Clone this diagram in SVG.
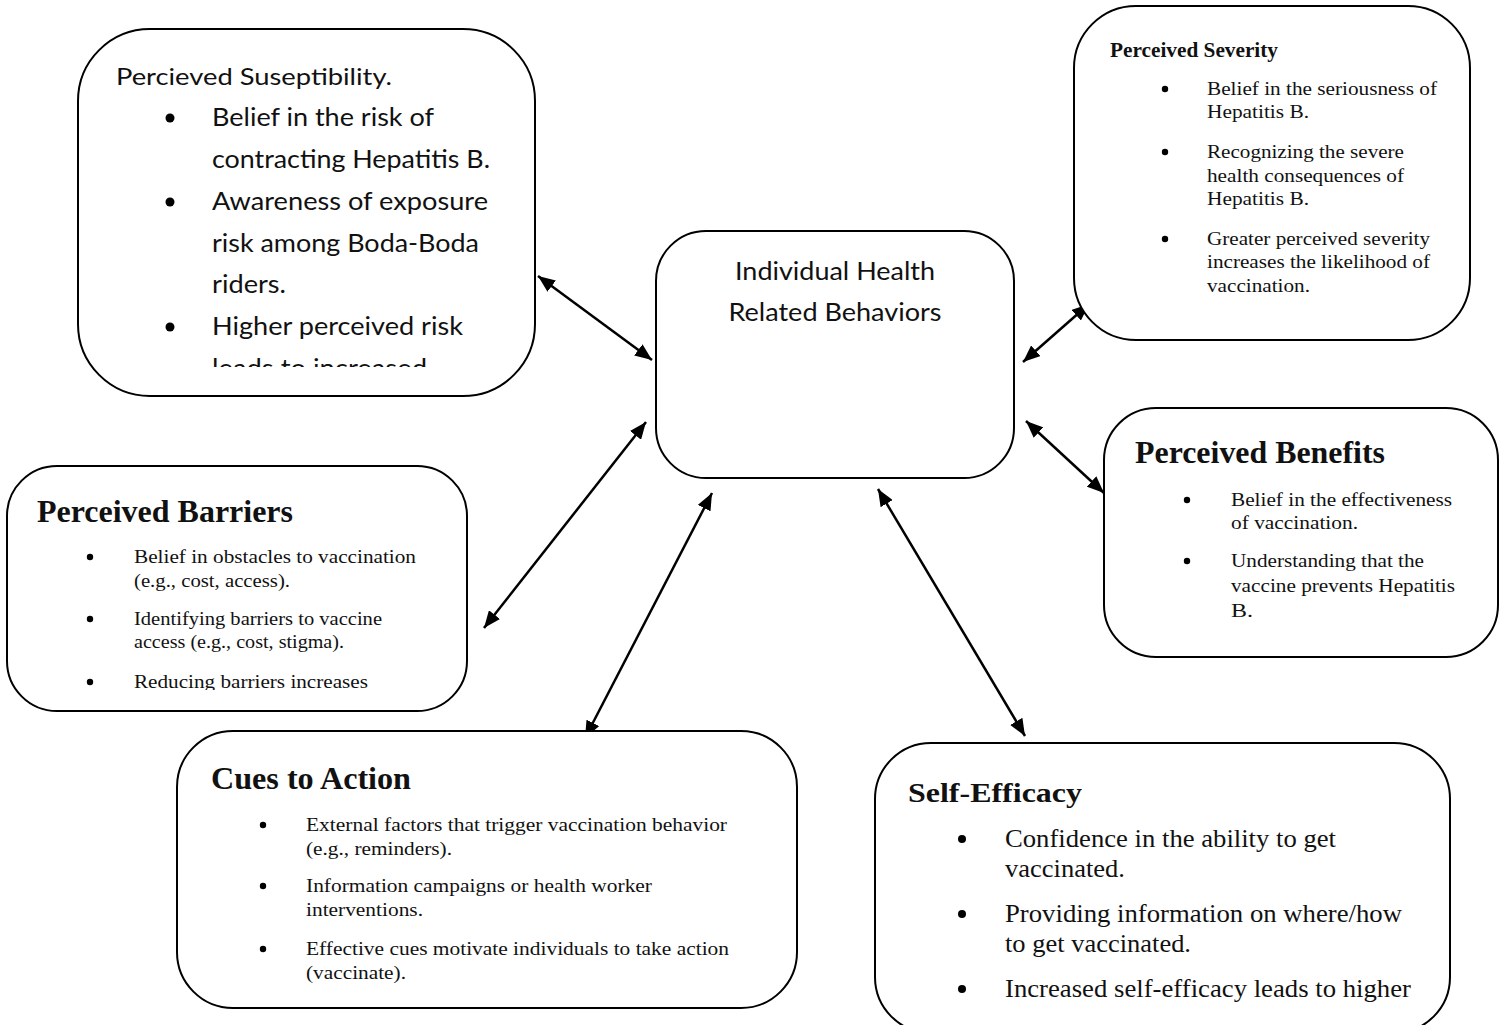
<svg xmlns="http://www.w3.org/2000/svg" width="1502" height="1025" viewBox="0 0 1502 1025">
<style>
.box{fill:#fff;stroke:#000;stroke-width:2}
.sans{font-family:Lato,"Liberation Sans",Arial,sans-serif;fill:#111}
.serif{font-family:"Liberation Serif","Times New Roman",serif;fill:#111}
.ttl{font-weight:bold;font-size:32px}
.s18{font-size:19.5px}
.s24{font-size:25px}
.c{stroke:#000;stroke-width:2.5;fill:none;marker-start:url(#ah);marker-end:url(#ah)}
</style>
<defs>
<marker id="ah" viewBox="0 0 12 10" refX="12" refY="5" markerWidth="6.8" markerHeight="5.67" orient="auto-start-reverse" markerUnits="strokeWidth">
<path d="M0,0 L12,5 L0,10 z" fill="#000"/>
</marker>
<clipPath id="clip1"><rect x="80" y="30" width="450" height="337"/></clipPath>
<clipPath id="clip4"><rect x="8" y="467" width="458" height="223"/></clipPath>
</defs>
<rect width="1502" height="1025" fill="#fff"/>

<g id="connectors">
<line class="c" x1="538" y1="276" x2="652" y2="360"/>
<line class="c" x1="646" y1="422" x2="484" y2="628"/>
<line class="c" x1="712" y1="493" x2="585" y2="738"/>
<line class="c" x1="878" y1="489" x2="1025" y2="736"/>
<line class="c" x1="1023" y1="362" x2="1089" y2="304"/>
<line class="c" x1="1026" y1="421" x2="1104" y2="493"/>
</g>

<g id="susceptibility">
<rect class="box" x="78" y="29" width="457" height="367" rx="72" ry="72"/>
<g clip-path="url(#clip1)" class="sans">
<text x="116" y="85" font-size="23" textLength="276" lengthAdjust="spacingAndGlyphs">Percieved Suseptibility.</text>
<g fill="#000"><circle cx="170" cy="118" r="4.5"/><circle cx="170" cy="202" r="4.5"/><circle cx="170" cy="327" r="4.5"/></g>
<g font-size="25">
<text x="212" y="126" textLength="222" lengthAdjust="spacingAndGlyphs">Belief in the risk of</text>
<text x="212" y="168" textLength="278" lengthAdjust="spacingAndGlyphs">contracting Hepatitis B.</text>
<text x="212" y="210" textLength="276" lengthAdjust="spacingAndGlyphs">Awareness of exposure</text>
<text x="212" y="252" textLength="267" lengthAdjust="spacingAndGlyphs">risk among Boda-Boda</text>
<text x="212" y="293" textLength="74" lengthAdjust="spacingAndGlyphs">riders.</text>
<text x="212" y="335" textLength="251" lengthAdjust="spacingAndGlyphs">Higher perceived risk</text>
<text x="212" y="377" textLength="215" lengthAdjust="spacingAndGlyphs">leads to increased</text>
</g>
</g>
</g>

<g id="severity">
<rect class="box" x="1074" y="6" width="396" height="334" rx="62" ry="62"/>
<text class="serif" x="1110" y="57" font-size="20" font-weight="bold" textLength="168" lengthAdjust="spacingAndGlyphs">Perceived Severity</text>
<g fill="#000"><circle cx="1165" cy="89" r="3.2"/><circle cx="1165" cy="152" r="3.2"/><circle cx="1165" cy="239" r="3.2"/></g>
<g class="serif s18">
<text x="1207" y="95" textLength="230" lengthAdjust="spacingAndGlyphs">Belief in the seriousness of</text>
<text x="1207" y="118" textLength="102" lengthAdjust="spacingAndGlyphs">Hepatitis B.</text>
<text x="1207" y="158" textLength="197" lengthAdjust="spacingAndGlyphs">Recognizing the severe</text>
<text x="1207" y="182" textLength="197" lengthAdjust="spacingAndGlyphs">health consequences of</text>
<text x="1207" y="205" textLength="102" lengthAdjust="spacingAndGlyphs">Hepatitis B.</text>
<text x="1207" y="245" textLength="223" lengthAdjust="spacingAndGlyphs">Greater perceived severity</text>
<text x="1207" y="268" textLength="223" lengthAdjust="spacingAndGlyphs">increases the likelihood of</text>
<text x="1207" y="292" textLength="103" lengthAdjust="spacingAndGlyphs">vaccination.</text>
</g>
</g>

<g id="center">
<rect class="box" x="656" y="231" width="358" height="247" rx="50" ry="50"/>
<g class="sans" font-size="25" text-anchor="middle">
<text x="835" y="280" textLength="200" lengthAdjust="spacingAndGlyphs">Individual Health</text>
<text x="835" y="321" textLength="213" lengthAdjust="spacingAndGlyphs">Related Behaviors</text>
</g>
</g>

<g id="barriers">
<rect class="box" x="7" y="466" width="460" height="245" rx="50" ry="50"/>
<text class="serif ttl" x="37" y="522" textLength="256" lengthAdjust="spacingAndGlyphs">Perceived Barriers</text>
<g fill="#000"><circle cx="90" cy="557" r="3.2"/><circle cx="90" cy="619" r="3.2"/><circle cx="90" cy="682" r="3.2"/></g>
<g class="serif s18" clip-path="url(#clip4)">
<text x="134" y="563" textLength="282" lengthAdjust="spacingAndGlyphs">Belief in obstacles to vaccination</text>
<text x="134" y="587" textLength="156" lengthAdjust="spacingAndGlyphs">(e.g., cost, access).</text>
<text x="134" y="625" textLength="248" lengthAdjust="spacingAndGlyphs">Identifying barriers to vaccine</text>
<text x="134" y="648" textLength="210" lengthAdjust="spacingAndGlyphs">access (e.g., cost, stigma).</text>
<text x="134" y="688" textLength="234" lengthAdjust="spacingAndGlyphs">Reducing barriers increases</text>
</g>
</g>

<g id="benefits">
<rect class="box" x="1104" y="408" width="394" height="249" rx="52" ry="52"/>
<text class="serif ttl" x="1135" y="463" textLength="250" lengthAdjust="spacingAndGlyphs">Perceived Benefits</text>
<g fill="#000"><circle cx="1187" cy="500" r="3.2"/><circle cx="1187" cy="561" r="3.2"/></g>
<g class="serif s18">
<text x="1231" y="506" textLength="221" lengthAdjust="spacingAndGlyphs">Belief in the effectiveness</text>
<text x="1231" y="529" textLength="127" lengthAdjust="spacingAndGlyphs">of vaccination.</text>
<text x="1231" y="567" textLength="193" lengthAdjust="spacingAndGlyphs">Understanding that the</text>
<text x="1231" y="592" textLength="224" lengthAdjust="spacingAndGlyphs">vaccine prevents Hepatitis</text>
<text x="1231" y="617" textLength="22" lengthAdjust="spacingAndGlyphs">B.</text>
</g>
</g>

<g id="cues">
<rect class="box" x="177" y="731" width="620" height="277" rx="56" ry="56"/>
<text class="serif ttl" x="211" y="789" textLength="200" lengthAdjust="spacingAndGlyphs">Cues to Action</text>
<g fill="#000"><circle cx="263" cy="825" r="3.2"/><circle cx="263" cy="886" r="3.2"/><circle cx="263" cy="949" r="3.2"/></g>
<g class="serif s18">
<text x="306" y="831" textLength="421" lengthAdjust="spacingAndGlyphs">External factors that trigger vaccination behavior</text>
<text x="306" y="855" textLength="146" lengthAdjust="spacingAndGlyphs">(e.g., reminders).</text>
<text x="306" y="892" textLength="346" lengthAdjust="spacingAndGlyphs">Information campaigns or health worker</text>
<text x="306" y="916" textLength="117" lengthAdjust="spacingAndGlyphs">interventions.</text>
<text x="306" y="955" textLength="423" lengthAdjust="spacingAndGlyphs">Effective cues motivate individuals to take action</text>
<text x="306" y="979" textLength="100" lengthAdjust="spacingAndGlyphs">(vaccinate).</text>
</g>
</g>

<g id="self-efficacy">
<rect class="box" x="875" y="743" width="575" height="290" rx="56" ry="56"/>
<text class="serif" x="908" y="802" font-size="28" font-weight="bold" textLength="174" lengthAdjust="spacingAndGlyphs">Self-Efficacy</text>
<g fill="#000"><circle cx="962" cy="839" r="4"/><circle cx="962" cy="914" r="4"/><circle cx="962" cy="989" r="4"/></g>
<g class="serif s24">
<text x="1005" y="847" textLength="331" lengthAdjust="spacingAndGlyphs">Confidence in the ability to get</text>
<text x="1005" y="877" textLength="120" lengthAdjust="spacingAndGlyphs">vaccinated.</text>
<text x="1005" y="922" textLength="397" lengthAdjust="spacingAndGlyphs">Providing information on where/how</text>
<text x="1005" y="952" textLength="186" lengthAdjust="spacingAndGlyphs">to get vaccinated.</text>
<text x="1005" y="997" textLength="406" lengthAdjust="spacingAndGlyphs">Increased self-efficacy leads to higher</text>
</g>
</g>
</svg>
